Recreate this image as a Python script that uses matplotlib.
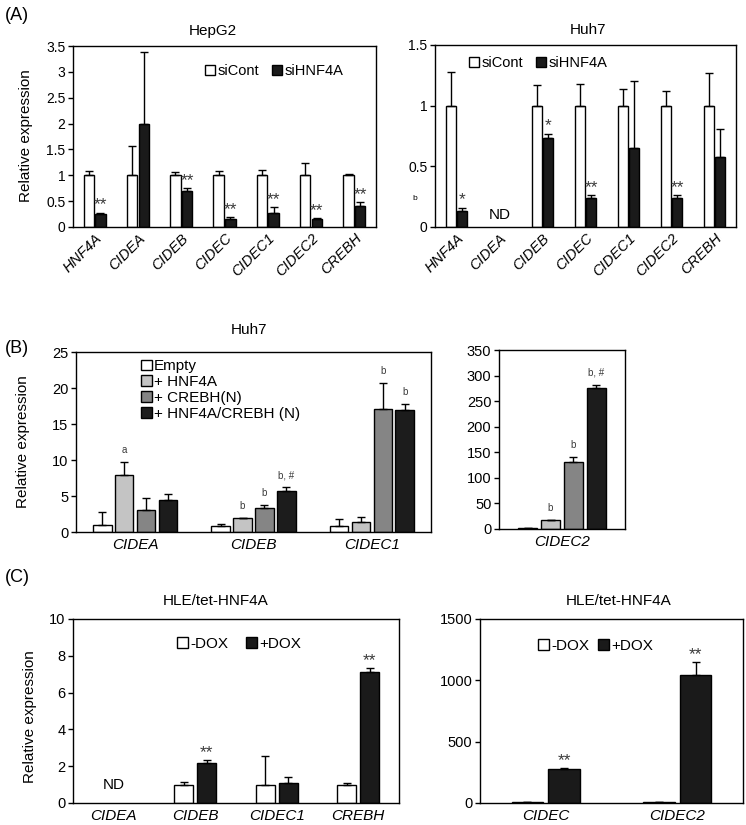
import numpy as np
import matplotlib.pyplot as plt
from matplotlib.patches import Patch
from matplotlib.ticker import FuncFormatter

plt.rcParams['font.family'] = ['Liberation Sans', 'DejaVu Sans']
plt.rcParams['axes.linewidth'] = 1.0

W, H = 746, 825
nan = np.nan

# (A) knockdown
genes_a = ['HNF4A', 'CIDEA', 'CIDEB', 'CIDEC', 'CIDEC1', 'CIDEC2', 'CREBH']
hepg2_cont = [1, 1, 1, 1, 1, 1, 1]
hepg2_cont_err = [0.08, 0.57, 0.07, 0.08, 0.10, 0.24, 0.03]
hepg2_si = [0.25, 2.0, 0.69, 0.15, 0.28, 0.15, 0.40]
hepg2_si_err = [0.03, 1.38, 0.06, 0.05, 0.10, 0.02, 0.08]
hepg2_sig = ['**', '', '**', '**', '**', '**', '**']

huh7_cont = [1, nan, 1, 1, 1, 1, 1]
huh7_cont_err = [0.28, nan, 0.17, 0.18, 0.14, 0.12, 0.27]
huh7_si = [0.13, nan, 0.73, 0.24, 0.65, 0.24, 0.58]
huh7_si_err = [0.03, nan, 0.04, 0.02, 0.55, 0.02, 0.23]
huh7_sig = ['*', '', '*', '**', '', '**', '']

# (B) overexpression in Huh7
genes_b = ['CIDEA', 'CIDEB', 'CIDEC1']
genes_b2 = ['CIDEC2']
groups_b = ['Empty', '+ HNF4A', '+ CREBH(N)', '+ HNF4A/CREBH (N)']
colors_b = ['white', '#c4c4c4', '#858585', '#1c1c1c']
b_vals = [[1.0, 0.9, 0.9], [7.9, 1.9, 1.4], [3.0, 3.4, 17.1], [4.5, 5.7, 16.9]]
b_errs = [[1.8, 0.15, 0.9], [1.8, 0.1, 0.7], [1.7, 0.3, 3.6], [0.8, 0.5, 0.9]]
b_sig = [['', '', ''], ['a', 'b', ''], ['', 'b', 'b'], ['', 'b, #', 'b']]
b2_vals = [[2], [17], [131], [275]]
b2_errs = [[0.5], [1.5], [9], [7]]
b2_sig = [[''], ['b'], ['b'], ['b, #']]

# (C) HLE/tet-HNF4A
genes_c = ['CIDEA', 'CIDEB', 'CIDEC1', 'CREBH']
c_minus = [nan, 1.0, 1.0, 1.0]
c_minus_err = [nan, 0.12, 1.55, 0.1]
c_plus = [nan, 2.15, 1.1, 7.1]
c_plus_err = [nan, 0.18, 0.3, 0.22]
c_sig = ['', '**', '', '**']
genes_c2 = ['CIDEC', 'CIDEC2']
c2_minus = [6, 6]
c2_minus_err = [1, 1]
c2_plus = [275, 1040]
c2_plus_err = [10, 110]
c2_sig = ['**', '**']

fig = plt.figure(figsize=(W / 100, H / 100), dpi=100)


def add_ax(l, t, r, b):
    return fig.add_axes([l / W, 1 - b / H, (r - l) / W, (b - t) / H])


def fx(x):
    return x / W


def fy(y):
    return 1 - y / H


def bars(ax, x, vals, errs, color, width, sig=None, sig_off=2, sig_size=10):
    vals = np.asarray(vals, float)
    errs = np.asarray(errs, float)
    ok = np.isfinite(vals)
    x = np.asarray(x, float)
    ax.bar(x[ok], vals[ok], width, color=color, edgecolor='black', linewidth=1.0, zorder=2)
    ax.errorbar(x[ok], vals[ok], yerr=[np.zeros(ok.sum()), errs[ok]], fmt='none',
                ecolor='black', elinewidth=1.0, capsize=3, capthick=1.0, zorder=3)
    if sig is not None:
        for xi, v, e, s in zip(x, vals, errs, sig):
            if s:
                ax.annotate(s, (xi, v + e), xytext=(0, sig_off), textcoords='offset points',
                            ha='center', va='bottom', fontsize=sig_size, color='#3a3a3a')


def style(ax, ylim, yticks, labels, lab_size=11, rot=0, tick_size=10.5):
    ax.set_ylim(*ylim)
    ax.set_yticks(yticks)
    ax.yaxis.set_major_formatter(FuncFormatter(lambda v, p: '{:g}'.format(v)))
    ax.tick_params(axis='y', direction='out', length=3.5, width=1, labelsize=tick_size, pad=2)
    ax.tick_params(axis='x', length=0, pad=4 if rot == 0 else 3)
    ax.set_xticks(range(len(labels)))
    if rot:
        ax.set_xticklabels(labels, rotation=rot, ha='right', rotation_mode='anchor',
                           fontsize=lab_size, style='italic')
    else:
        ax.set_xticklabels(labels, fontsize=lab_size, style='italic')


def legend(ax, labels, colors, x, y, ncol=1, size=11, colsp=1.0):
    handles = [Patch(facecolor=c, edgecolor='black', linewidth=1.0) for c in colors]
    ax.legend(handles, labels, loc='center left', bbox_to_anchor=(fx(x), fy(y)),
              bbox_transform=fig.transFigure, frameon=False, ncol=ncol, fontsize=size,
              handlelength=0.7, handleheight=0.7, handletextpad=0.15, borderpad=0,
              borderaxespad=0, columnspacing=colsp, labelspacing=0.12)


# ---- (A) HepG2
ax = add_ax(73, 46, 376, 227)
xa = np.arange(len(genes_a))
bars(ax, xa - 0.135, hepg2_cont, hepg2_cont_err, 'white', 0.24)
bars(ax, xa + 0.135, hepg2_si, hepg2_si_err, '#1a1a1a', 0.24, hepg2_sig, sig_off=0, sig_size=12.5)
ax.set_xlim(-0.5, 6.5)
style(ax, (0, 3.5), np.arange(0, 3.51, 0.5), genes_a, lab_size=10.5, rot=45, tick_size=10)
legend(ax, ['siCont', 'siHNF4A'], ['white', '#1a1a1a'], 205, 71, ncol=2, size=10.5, colsp=0.9)

# ---- (A) Huh7
ax = add_ax(435, 45, 736, 227)
bars(ax, xa - 0.135, huh7_cont, huh7_cont_err, 'white', 0.24)
bars(ax, xa + 0.135, huh7_si, huh7_si_err, '#1a1a1a', 0.24, huh7_sig, sig_off=0, sig_size=12.5)
ax.set_xlim(-0.5, 6.5)
style(ax, (0, 1.5), [0, 0.5, 1, 1.5], genes_a, lab_size=10.5, rot=45, tick_size=10)
ax.text(1, 0.1, 'ND', ha='center', va='center', fontsize=11)
legend(ax, ['siCont', 'siHNF4A'], ['white', '#1a1a1a'], 469, 63, ncol=2, size=10.5, colsp=0.9)
fig.text(fx(415), fy(198), 'b', ha='center', va='center', fontsize=6)

# ---- (B) Huh7
step, bw = 0.185, 0.155
ax = add_ax(76, 352, 431, 532)
xb = np.arange(len(genes_b))
for i in range(4):
    bars(ax, xb + (i - 1.5) * step, b_vals[i], b_errs[i], colors_b[i], bw, b_sig[i],
         sig_off=5, sig_size=7)
ax.set_xlim(-0.5, 2.5)
style(ax, (0, 25), [0, 5, 10, 15, 20, 25], genes_b)
legend(ax, groups_b, colors_b, 141, 390, size=11)

ax = add_ax(499, 350, 625, 529)
for i in range(4):
    bars(ax, np.array([0.0]) + (i - 1.5) * 0.195, b2_vals[i], b2_errs[i], colors_b[i], bw,
         b2_sig[i], sig_off=5, sig_size=7)
ax.set_xlim(-0.535, 0.535)
style(ax, (0, 350), np.arange(0, 351, 50), genes_b2)

# ---- (C) HLE/tet-HNF4A
ax = add_ax(73, 619, 399, 803)
xc = np.arange(len(genes_c))
bars(ax, xc - 0.14, c_minus, c_minus_err, 'white', 0.23)
bars(ax, xc + 0.14, c_plus, c_plus_err, '#1a1a1a', 0.23, c_sig, sig_off=0, sig_size=12.5)
ax.set_xlim(-0.5, 3.5)
style(ax, (0, 10), [0, 2, 4, 6, 8, 10], genes_c)
ax.text(0, 1.0, 'ND', ha='center', va='center', fontsize=11)
legend(ax, ['-DOX', '+DOX'], ['white', '#1a1a1a'], 177, 644, ncol=2, size=11, colsp=1.2)

ax = add_ax(480, 619, 743, 803)
xc2 = np.arange(len(genes_c2))
bars(ax, xc2 - 0.14, c2_minus, c2_minus_err, 'white', 0.24)
bars(ax, xc2 + 0.14, c2_plus, c2_plus_err, '#1a1a1a', 0.24, c2_sig, sig_off=0, sig_size=12.5)
ax.set_xlim(-0.5, 1.5)
style(ax, (0, 1500), [0, 500, 1000, 1500], genes_c2)
legend(ax, ['-DOX', '+DOX'], ['white', '#1a1a1a'], 538, 646, ncol=2, size=11, colsp=0.6)

# titles, y labels, panel letters
for x, y, s in [(213, 31, 'HepG2'), (588, 30, 'Huh7'), (249, 330, 'Huh7'),
                (216, 601, 'HLE/tet-HNF4A'), (619, 601, 'HLE/tet-HNF4A')]:
    fig.text(fx(x), fy(y), s, ha='center', va='center', fontsize=11)
for x, y in [(26, 136), (23, 442), (30, 717)]:
    fig.text(fx(x), fy(y), 'Relative expression', rotation=90, ha='center', va='center',
             fontsize=11)
for y, s in [(15, '(A)'), (348, '(B)'), (577, '(C)')]:
    fig.text(fx(17), fy(y), s, ha='center', va='center', fontsize=13)

fig.savefig('out.png', dpi=100)
